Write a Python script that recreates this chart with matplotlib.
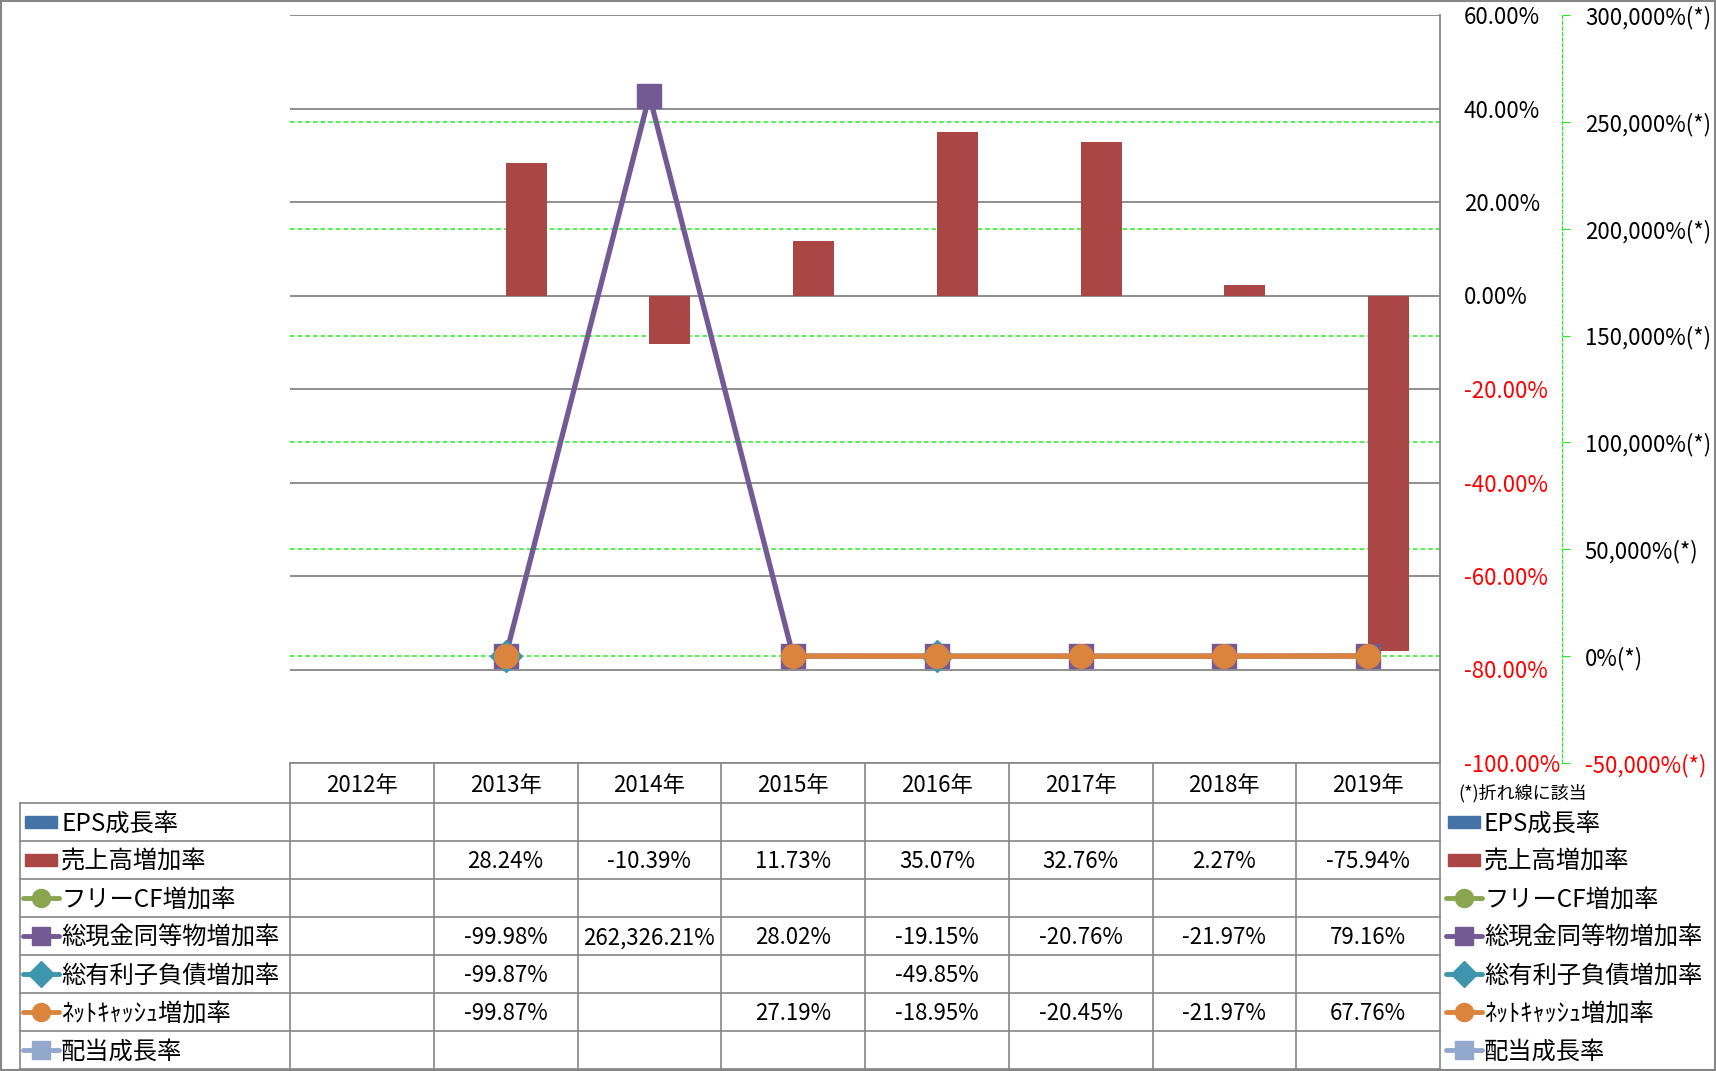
import numpy as np
import matplotlib
matplotlib.use("Agg")
import matplotlib.pyplot as plt
from matplotlib.patches import Rectangle
from matplotlib.transforms import blended_transform_factory

plt.rcParams['font.family'] = ['Noto Sans CJK JP', 'DejaVu Sans']

nan = np.nan
years = ['2012年', '2013年', '2014年', '2015年', '2016年', '2017年', '2018年', '2019年']
eps_growth = [nan, nan, nan, nan, nan, nan, nan, nan]
sales_growth = [nan, 28.24, -10.39, 11.73, 35.07, 32.76, 2.27, -75.94]
fcf_growth = [nan, nan, nan, nan, nan, nan, nan, nan]
cash_growth = [nan, -99.98, 262326.21, 28.02, -19.15, -20.76, -21.97, 79.16]
debt_growth = [nan, -99.87, nan, nan, -49.85, nan, nan, nan]
netcash_growth = [nan, -99.87, nan, 27.19, -18.95, -20.45, -21.97, 67.76]
div_growth = [nan, nan, nan, nan, nan, nan, nan, nan]

names = ['EPS成長率', '売上高増加率', 'フリーCF増加率', '総現金同等物増加率',
         '総有利子負債増加率', 'ﾈｯﾄｷｬｯｼｭ増加率', '配当成長率']
values = [eps_growth, sales_growth, fcf_growth, cash_growth,
          debt_growth, netcash_growth, div_growth]
colors = ['#4572A7', '#AA4643', '#89A54E', '#735A95', '#3D96AE', '#DB843D', '#92A8CD']
kinds = ['bar', 'bar', 'o', 's', 'D', 'o', 's']

left_ticks = [60, 40, 20, 0, -20, -40, -60, -80, -100]
right_ticks = [300000, 250000, 200000, 150000, 100000, 50000, 0, -50000]

W, H = 1716, 1071
GRAY = '#868686'
GREEN = '#22EE22'
fig = plt.figure(figsize=(W / 100, H / 100), dpi=100)

# overlay for the table / border, in pixel units
over = fig.add_axes([0, 0, 1, 1], zorder=0)
over.set_xlim(0, W)
over.set_ylim(H, 0)
over.axis('off')

px_l, px_r, px_t, px_b = 290, 1440, 15, 763
ax = fig.add_axes([px_l / W, (H - px_b) / H, (px_r - px_l) / W, (px_b - px_t) / H], zorder=2)
ax.patch.set_visible(False)
ax2 = ax.twinx()

x = np.arange(len(years))
ax.set_xlim(-0.5, len(years) - 0.5)
ax.set_ylim(-100, 60)
ax.set_yticks(left_ticks)
ax.set_yticklabels([f'{t:.2f}%' for t in left_ticks])
ax.yaxis.tick_right()
ax.tick_params(axis='y', length=0, pad=17, labelsize=16,
               labelright=True, labelleft=False)
ax.tick_params(axis='x', bottom=False, labelbottom=False)
for s in ['left', 'top', 'bottom']:
    ax.spines[s].set_visible(False)
ax.spines['right'].set_color(GRAY)
ax.spines['right'].set_linewidth(1.3)
ax.grid(axis='y', color=GRAY, linewidth=1.3, zorder=0)
ax.set_axisbelow(True)

ax2.set_ylim(-50000, 300000)
ax2.set_yticks(right_ticks)
ax2.set_yticklabels([f'{t:,}%(*)' for t in right_ticks])
for s in ['left', 'top', 'bottom']:
    ax2.spines[s].set_visible(False)
ax2.spines['right'].set_position(('axes', (1562 - px_l) / (px_r - px_l)))
ax2.spines['right'].set_color(GREEN)
ax2.spines['right'].set_linestyle((0, (3, 2)))
ax2.tick_params(axis='y', direction='out', length=5.5, color=GREEN, pad=11,
                labelsize=16)

for a, ticks in [(ax, left_ticks), (ax2, right_ticks)]:
    for tk, t in zip(a.yaxis.get_major_ticks(), ticks):
        c = 'red' if t < 0 else 'black'
        tk.label1.set_color(c)
        tk.label2.set_color(c)

# secondary gridlines under the bars
gtrans = blended_transform_factory(ax.transAxes, ax2.transData)
for t in right_ticks[1:-1]:
    ax.plot([0, 1], [t, t], transform=gtrans, color=GREEN, lw=1.1,
            ls=(0, (3, 2)), zorder=0.5)

bw = 0.286
ax.bar(x - bw / 2, eps_growth, bw, color=colors[0], zorder=2)
ax.bar(x + bw / 2, sales_growth, bw, color=colors[1], zorder=2)

for i in [3, 4, 5, 2, 6]:
    ms = 17 if kinds[i] != 'D' else 16
    ax2.plot(x, values[i], color=colors[i], lw=3.8, marker=kinds[i], ms=ms,
             mec=colors[i], mfc=colors[i], zorder=3)

# data table
tcol = blended_transform_factory(ax.transData, over.transData)
lc = dict(color=GRAY, lw=1.2)
row_top = 803
row_h = 38
n = len(names)
over.plot([px_l, px_r], [px_b, px_b], **lc)
for k in range(n + 1):
    yy = row_top + k * row_h
    over.plot([20, px_r], [yy, yy], **lc)
over.plot([20, 20], [row_top, row_top + n * row_h], **lc)
for k in range(len(years) + 1):
    over.plot([k - 0.5, k - 0.5], [px_b, row_top + n * row_h], transform=tcol, **lc)

for i, yl in enumerate(years):
    over.text(i, (px_b + row_top) / 2 + 2, yl, transform=tcol, ha='center',
              va='center', fontsize=16)
for r, vals in enumerate(values):
    yc = row_top + (r + 0.5) * row_h + 2
    for i, v in enumerate(vals):
        if not np.isnan(v):
            over.text(i, yc, f'{v:,.2f}%', transform=tcol, ha='center',
                      va='center', fontsize=16)


def legend_item(x0, yc, i):
    if kinds[i] == 'bar':
        over.add_patch(Rectangle((x0 + 2, yc - 6), 32, 12, color=colors[i]))
    else:
        over.plot([x0, x0 + 36], [yc, yc], color=colors[i], lw=3.5,
                  solid_capstyle='round')
        over.plot([x0 + 18], [yc], marker=kinds[i], ms=13, color=colors[i])
    over.text(x0 + 38, yc + 2, names[i], ha='left', va='center', fontsize=17.5)


for r in range(n):
    yc = row_top + (r + 0.5) * row_h
    legend_item(23, yc, r)
    legend_item(1446, yc, r)

over.text(1458, 793, '(*)折れ線に該当', ha='left', va='center', fontsize=13)
over.add_patch(Rectangle((1, 1), W - 2, H - 2, fill=False, ec=GRAY, lw=1.5))

fig.savefig('out.png', dpi=100)
